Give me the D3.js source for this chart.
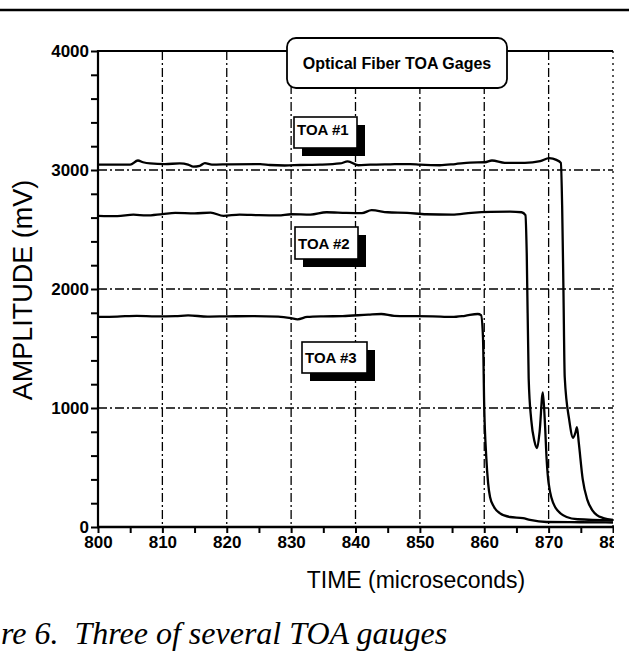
<!DOCTYPE html>
<html>
<head>
<meta charset="utf-8">
<script src="https://cdn.jsdelivr.net/npm/d3@7"></script>
<style>
  html, body { margin: 0; padding: 0; background: #fff; }
  svg { display: block; }
  text { font-family: "Liberation Sans", Arial, Helvetica, sans-serif; fill: #000; }
</style>
</head>
<body>
<svg id="chart" width="629" height="657"></svg>
<script>
// ---------- DATA ----------
const xTickValues = [800, 810, 820, 830, 840, 850, 860, 870, 880];
const yTickValues = [0, 1000, 2000, 3000, 4000];
const seriesNames = ["TOA #1", "TOA #2", "TOA #3"];

const toa1Time = [800.0, 805.0, 806.2, 807.0, 808.1, 810.4, 812.7, 814.0, 814.8, 815.8, 816.6, 817.7, 820.5, 825.2, 826.7, 829.0, 831.4, 834.5, 837.6, 838.8, 840.4, 842.3, 845.4, 848.5, 850.0, 853.1, 855.5, 857.8, 860.1, 861.2, 863.2, 866.3, 868.7, 870.1, 871.2, 871.9, 872.1, 872.3, 872.5, 873.2, 873.8, 874.2, 874.4, 874.7, 875.3, 876.0, 876.8, 877.5, 878.5, 880.0];
const toa1Amp  = [3045, 3045, 3080, 3065, 3055, 3050, 3055, 3045, 3028, 3035, 3058, 3045, 3048, 3050, 3042, 3038, 3042, 3045, 3055, 3072, 3040, 3045, 3048, 3050, 3045, 3040, 3050, 3062, 3065, 3080, 3060, 3060, 3075, 3100, 3085, 3060, 2700, 2000, 1260, 900, 750, 800, 840, 700, 400, 230, 140, 100, 75, 60];

const toa2Time = [800.0, 803.0, 805.5, 807.5, 810.0, 812.0, 815.0, 817.5, 819.5, 822.0, 825.0, 828.0, 830.0, 833.0, 835.5, 838.5, 841.0, 842.5, 845.0, 848.0, 851.0, 855.0, 858.0, 861.0, 864.0, 865.8, 866.4, 866.6, 866.9, 867.3, 867.8, 868.2, 868.6, 869.1, 869.4, 869.7, 870.0, 871.0, 872.8, 874.5, 880.0];
const toa2Amp  = [2615, 2612, 2625, 2618, 2630, 2640, 2635, 2642, 2615, 2625, 2620, 2618, 2628, 2625, 2645, 2640, 2638, 2662, 2645, 2640, 2628, 2625, 2640, 2648, 2650, 2645, 2620, 2300, 1250, 900, 720, 662, 800, 1132, 900, 560, 369, 168, 84, 65, 55];

const toa3Time = [800.0, 803.0, 806.0, 809.0, 812.0, 814.0, 817.0, 820.0, 824.0, 828.0, 830.0, 831.0, 832.5, 835.0, 838.0, 842.0, 844.0, 846.0, 849.0, 852.0, 855.0, 857.0, 859.0, 859.5, 859.8, 860.0, 860.3, 860.6, 860.9, 861.5, 862.4, 864.0, 866.0, 867.1, 869.7, 875.0, 880.0];
const toa3Amp  = [1765, 1768, 1775, 1770, 1772, 1778, 1768, 1770, 1772, 1768, 1755, 1745, 1765, 1770, 1772, 1785, 1790, 1775, 1772, 1770, 1765, 1775, 1790, 1780, 1600, 1000, 600, 369, 252, 170, 117, 84, 75, 60, 42, 40, 38];

const seriesTimes = [toa1Time, toa2Time, toa3Time];
const seriesAmps = [toa1Amp, toa2Amp, toa3Amp];

const legendTitle = "Optical Fiber TOA Gages";
const xTitle = "TIME (microseconds)";
const yTitle = "AMPLITUDE (mV)";
const captionText = "re 6.  Three of several TOA gauges";

// ---------- LAYOUT ----------
const svg = d3.select("#chart");
const pLeft = 98, pRight = 613, pTop = 51, pBottom = 527;
const x = d3.scaleLinear().domain([800, 880]).range([pLeft, pRight]);
const y = d3.scaleLinear().domain([0, 4000]).range([pBottom, pTop]);

// page rule
svg.append("line").attr("x1", 0).attr("x2", 629).attr("y1", 10).attr("y2", 10)
  .attr("stroke", "#000").attr("stroke-width", 2.5);

svg.append("clipPath").attr("id", "cut").append("rect")
  .attr("x", 0).attr("y", 0).attr("width", 614).attr("height", 600);
const g = svg.append("g").attr("clip-path", "url(#cut)");

// grid
g.append("g").selectAll("line").data(xTickValues.filter(v => v > 800 && v < 880)).join("line")
  .attr("x1", d => x(d)).attr("x2", d => x(d)).attr("y1", pTop).attr("y2", pBottom)
  .attr("stroke", "#000").attr("stroke-width", 1.3).attr("stroke-dasharray", "9,3,2,3");
g.append("g").selectAll("line").data(yTickValues.filter(v => v > 0 && v < 4000)).join("line")
  .attr("x1", pLeft).attr("x2", pRight).attr("y1", d => y(d)).attr("y2", d => y(d))
  .attr("stroke", "#000").attr("stroke-width", 1.3).attr("stroke-dasharray", "9,3,2,3");
g.append("line").attr("x1", x(880)).attr("x2", x(880)).attr("y1", pTop).attr("y2", pBottom)
  .attr("stroke", "#000").attr("stroke-width", 1.3).attr("stroke-dasharray", "2,4");
g.append("line").attr("x1", pLeft).attr("x2", pRight).attr("y1", y(4000)).attr("y2", y(4000))
  .attr("stroke", "#000").attr("stroke-width", 1.8);

// axes
const xAxis = d3.axisBottom(x)
  .tickValues(d3.range(800, 881, 5))
  .tickSize(6).tickPadding(3)
  .tickFormat(d => d % 10 === 0 ? d3.format("d")(d) : "");
const xg = g.append("g").attr("transform", `translate(0,${pBottom})`).call(xAxis);
xg.select(".domain").remove();
xg.selectAll(".tick line").attr("stroke", "#000").attr("stroke-width", 2);
xg.selectAll(".tick text").attr("font-size", 17).attr("font-weight", "bold")
  .attr("font-family", "Liberation Sans, Arial, sans-serif");

const yAxis = d3.axisLeft(y)
  .tickValues(d3.range(0, 4001, 200))
  .tickSize(7).tickPadding(2)
  .tickFormat(d => d % 1000 === 0 ? d3.format("d")(d) : "");
const yg = g.append("g").attr("transform", `translate(${pLeft},0)`).call(yAxis);
yg.select(".domain").remove();
yg.selectAll(".tick line").attr("stroke", "#000").attr("stroke-width", 2);
yg.selectAll(".tick text").attr("font-size", 17).attr("font-weight", "bold")
  .attr("font-family", "Liberation Sans, Arial, sans-serif");

g.append("line").attr("x1", pLeft).attr("x2", pLeft).attr("y1", pTop - 1).attr("y2", pBottom + 1)
  .attr("stroke", "#000").attr("stroke-width", 2.2);
g.append("line").attr("x1", pLeft - 1).attr("x2", pRight + 2).attr("y1", pBottom).attr("y2", pBottom)
  .attr("stroke", "#000").attr("stroke-width", 2.6);

// series
const line = d3.line().x(d => x(d[0])).y(d => y(d[1])).curve(d3.curveMonotoneX);
seriesTimes.forEach((ts, i) => {
  const pts = ts.map((t, j) => [t, seriesAmps[i][j]]);
  g.append("path").datum(pts).attr("d", line)
    .attr("fill", "none").attr("stroke", "#000").attr("stroke-width", 2.3)
    .attr("stroke-linejoin", "round");
});

// legend box
const lb = { x: 287, y: 38, w: 220, h: 50 };
g.append("rect").attr("x", lb.x).attr("y", lb.y).attr("width", lb.w).attr("height", lb.h)
  .attr("rx", 9).attr("fill", "#fff").attr("stroke", "#000").attr("stroke-width", 1.8);
g.append("text").attr("x", lb.x + lb.w / 2).attr("y", lb.y + lb.h / 2 + 6)
  .attr("text-anchor", "middle").attr("font-size", 16).attr("font-weight", "bold")
  .text(legendTitle);

// label boxes
const labelBoxes = [
  { x: 294, y: 117, w: 63, h: 31 },
  { x: 295, y: 227, w: 63, h: 32 },
  { x: 302, y: 342, w: 65, h: 31 }
];
labelBoxes.forEach((b, i) => {
  g.append("rect").attr("x", b.x + 8).attr("y", b.y + 8).attr("width", b.w).attr("height", b.h)
    .attr("fill", "#000");
  g.append("rect").attr("x", b.x).attr("y", b.y).attr("width", b.w).attr("height", b.h)
    .attr("fill", "#fff").attr("stroke", "#000").attr("stroke-width", 1.6);
  g.append("text").attr("x", b.x + 3).attr("y", b.y + (i === 0 ? 18 : b.h / 2 + 5.5))
    .attr("font-size", 15).attr("font-weight", "bold").text(seriesNames[i]);
});

// titles
svg.append("text").attr("x", 416).attr("y", 588).attr("text-anchor", "middle")
  .attr("font-size", 23).text(xTitle);
svg.append("text").attr("transform", "translate(32,290) rotate(-90)")
  .attr("text-anchor", "middle").attr("font-size", 27).text(yTitle);

// caption (left part of "Figure" is cropped off the page in the original)
svg.append("text").attr("x", 1).attr("y", 644)
  .style("font-family", "'Liberation Serif', 'Times New Roman', serif")
  .style("font-style", "italic").style("white-space", "pre")
  .attr("font-size", 32).text(captionText);
</script>
</body>
</html>
